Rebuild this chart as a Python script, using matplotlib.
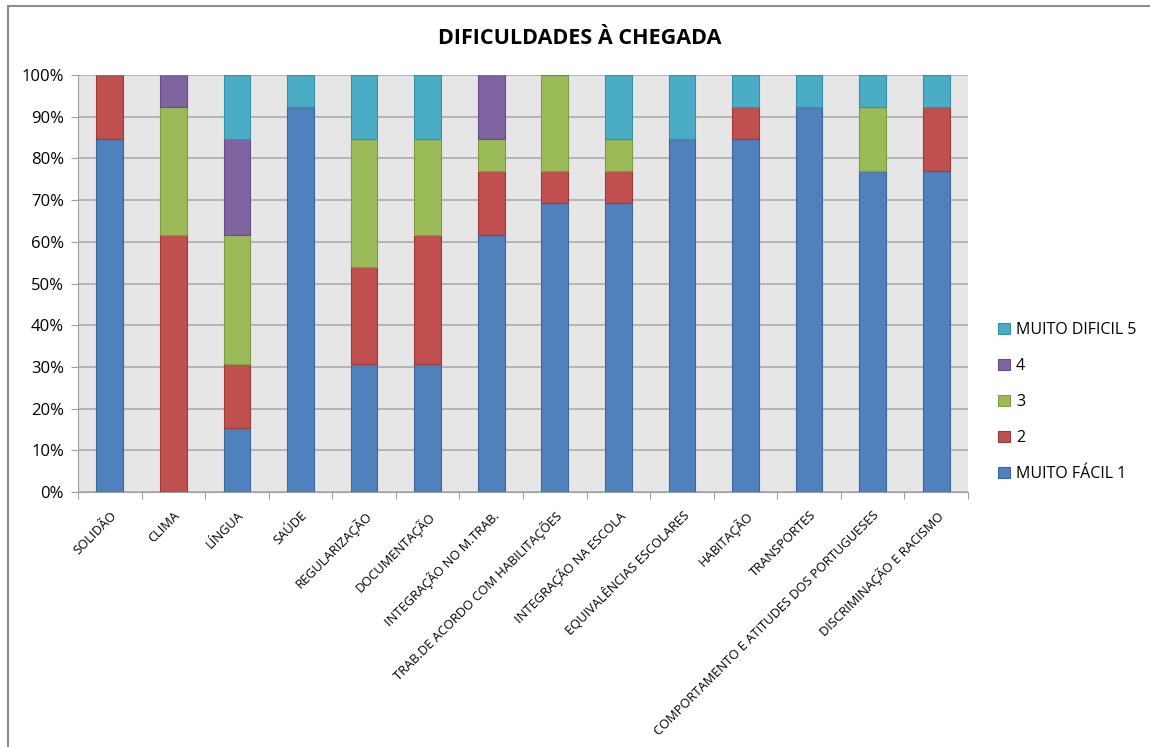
import matplotlib
matplotlib.use("Agg")
import matplotlib.pyplot as plt
import numpy as np
from matplotlib.patches import Rectangle

plt.rcParams['font.family'] = ['Open Sans', 'DejaVu Sans']

categories = ["SOLIDÃO", "CLIMA", "LÍNGUA", "SAÚDE", "REGULARIZAÇÃO", "DOCUMENTAÇÃO",
              "INTEGRAÇÃO NO M.TRAB.", "TRAB.DE ACORDO COM HABILITAÇÕES",
              "INTEGRAÇÃO NA ESCOLA", "EQUIVALÊNCIAS ESCOLARES", "HABITAÇÃO",
              "TRANSPORTES", "COMPORTAMENTO E ATITUDES DOS PORTUGUESES",
              "DISCRIMINAÇÃO E RACISMO"]
series_names = ["MUITO FÁCIL 1", "2", "3", "4", "MUITO DIFICIL 5"]
# counts of responses (13 respondents per item)
s1 = [11, 0, 2, 12, 4, 4, 8, 9, 9, 11, 11, 12, 10, 10]
s2 = [2, 8, 2, 0, 3, 4, 2, 1, 1, 0, 1, 0, 0, 2]
s3 = [0, 4, 4, 0, 4, 3, 1, 3, 1, 0, 0, 0, 2, 0]
s4 = [0, 1, 3, 0, 0, 0, 2, 0, 0, 0, 0, 0, 0, 0]
s5 = [0, 0, 2, 1, 2, 2, 0, 0, 2, 2, 1, 1, 1, 1]
yticks = [0, 10, 20, 30, 40, 50, 60, 70, 80, 90, 100]

colors = ["#4F81BD", "#C0504D", "#9BBB59", "#8064A2", "#4BACC6"]
edges = ["#3A6699", "#9E3B38", "#7E9C44", "#654D86", "#3590A8"]

data = np.array([s1, s2, s3, s4, s5], dtype=float)
pct = data / data.sum(axis=0) * 100

fig = plt.figure(figsize=(11.5, 7.47), dpi=100)
ax = fig.add_axes([78/1150, 1-492/747, 890/1150, 417/747])
ax.set_facecolor("#E6E6E6")

x = np.arange(len(categories))
bottom = np.zeros(len(categories))
handles = []
for i in range(5):
    h = ax.bar(x, pct[i], bottom=bottom, width=0.42, color=colors[i],
               edgecolor=edges[i], linewidth=0.8, label=series_names[i], zorder=3)
    handles.append(h)
    bottom += pct[i]

ax.set_xlim(-0.5, len(categories) - 0.5)
ax.set_ylim(0, 100)
ax.set_yticks(yticks)
ax.set_yticklabels([f"{t}%" for t in yticks], fontsize=12)
ax.yaxis.grid(True, color="#B0B0B0", linewidth=1.3, zorder=0)
ax.set_axisbelow(True)
for s in ["top", "right"]:
    ax.spines[s].set_visible(False)
ax.spines["left"].set_color("#A0A0A0")
ax.spines["bottom"].set_color("#A0A0A0")
ax.tick_params(axis="y", length=5, color="#A0A0A0", pad=5)

ax.set_xticks(np.arange(len(categories) + 1) - 0.5, minor=False)
ax.set_xticklabels([])
ax.tick_params(axis="x", which="major", length=5, color="#A0A0A0", direction="out")
ax.set_xticks(x, minor=True)
ax.set_xticklabels(categories, minor=True, rotation=45, ha="right",
                   rotation_mode="anchor", fontsize=9.3)
ax.tick_params(axis="x", which="minor", length=0, pad=12)

fig.text(580/1150, 1 - 38/747, "DIFICULDADES À CHEGADA",
         ha="center", va="center", fontsize=15.5, fontweight="bold")

leg = ax.legend(handles[::-1], series_names[::-1], loc="center left",
                bbox_to_anchor=(1.0, 0.215), frameon=False, fontsize=11.5,
                handlelength=0.7, handleheight=0.7, labelspacing=1.25,
                borderaxespad=1.5, handletextpad=0.4)

fig.patches.append(Rectangle((8/1150, -0.01), 1.1, 1 - 6/747 + 0.01,
                             transform=fig.transFigure, fill=False,
                             edgecolor="#8C8C8C", linewidth=1.5))

fig.savefig("out.png", dpi=100)
